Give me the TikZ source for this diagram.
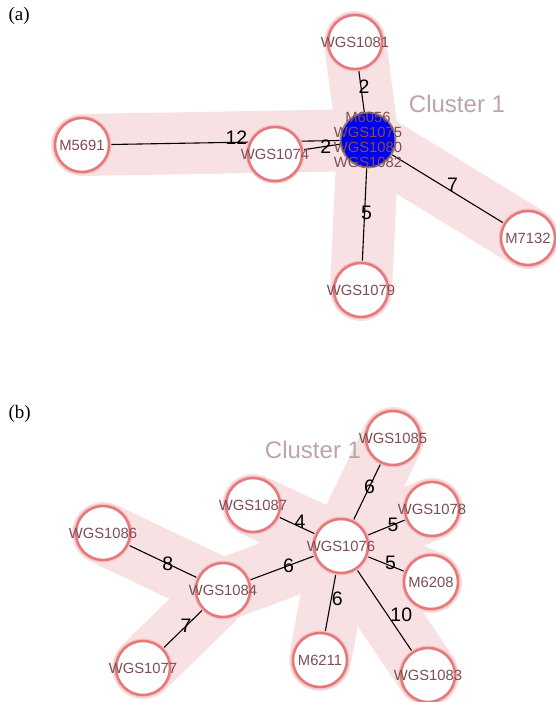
\documentclass[tikz,border=0pt]{standalone}
\usepackage{fontspec}
\setmainfont{Liberation Serif}
\newfontfamily\lsans{Liberation Sans}
\pgfdeclarelayer{hull}
\pgfdeclarelayer{edges}
\pgfsetlayers{hull,edges,main}
\definecolor{hullc}{RGB}{248,225,226}
\definecolor{ringc}{RGB}{228,120,122}
\definecolor{haloc}{RGB}{245,195,196}
\definecolor{txtc}{RGB}{125,78,85}
\definecolor{clc}{RGB}{188,165,166}
\definecolor{bluec}{RGB}{0,0,238}
\definecolor{blueb}{RGB}{150,125,125}
\tikzset{
  nd/.style={circle, minimum size=54pt, inner sep=0pt, fill=white, draw=ringc, line width=2.5pt,
    preaction={draw=haloc, line width=5pt}},
  bnd/.style={circle, minimum size=55pt, inner sep=0pt, fill=bluec, draw=blueb, line width=1.8pt},
  lbl/.style={inner sep=0pt, text=txtc, font=\lsans\fontsize{14.8}{14.8}\selectfont},
  edge/.style={draw=black, line width=1.1pt},
  elbl/.style={inner sep=1pt, text=black, font=\lsans\fontsize{19.5}{20}\selectfont},
  hullline/.style={draw=hullc, line width=62pt, line cap=round, line join=round},
  cl/.style={text=clc, font=\lsans\fontsize{24}{24}\selectfont},
  panel/.style={anchor=west, font=\fontsize{19}{19}\selectfont}
}
\begin{document}
\begin{tikzpicture}[x=1pt,y=-1pt]
\useasboundingbox (0,0) rectangle (555,702);
% panel labels
\node[panel] (pa) at (5,16) {(a)};
\node[panel] (pb) at (5,414) {(b)};
% ---------- panel (a) ----------
\node[bnd, label={[lbl,align=center]center:{M6056\\WGS1075\\WGS1080\\WGS1082}}] (c) at (368,140) {};
\node[nd, label={[lbl]center:WGS1081}] (w1081) at (355,42) {};
\node[nd, label={[lbl]center:WGS1074}] (w1074) at (275,154) {};
\node[nd, label={[lbl]center:M5691}] (m5691) at (82,145) {};
\node[nd, label={[lbl]center:M7132}] (m7132) at (528,238) {};
\node[nd, label={[lbl]center:WGS1079}] (w1079) at (361,290) {};
\node[cl] (cla) at (457,104) {Cluster 1};
\begin{pgfonlayer}{hull}
\path[hullline] (c.center) -- (w1081.center) (c.center) -- (m5691.center)
  (c.center) -- (m7132.center) (c.center) -- (w1079.center);
\end{pgfonlayer}
\begin{pgfonlayer}{edges}
\draw[edge] (w1081) -- node[elbl,pos=0.41,xshift=3pt]{2} (c);
\draw[edge] (m5691) -- node[elbl,pos=0.55,yshift=5pt]{12} (c);
\draw[edge] (w1074) -- node[elbl,pos=0.62]{2} (c);
\draw[edge] (c) -- node[elbl,pos=0.475,xshift=2pt]{5} (w1079);
\draw[edge] (c) -- node[elbl,pos=0.54,yshift=7pt]{7} (m7132);
\end{pgfonlayer}
% ---------- panel (b) ----------
\node[nd, label={[lbl]center:WGS1076}] (w1076) at (341,546) {};
\node[nd, label={[lbl]center:WGS1085}] (w1085) at (393,438) {};
\node[nd, label={[lbl]center:WGS1078}] (w1078) at (432,509) {};
\node[nd, label={[lbl]center:M6208}] (m6208) at (431,582) {};
\node[nd, label={[lbl]center:WGS1083}] (w1083) at (428,675) {};
\node[nd, label={[lbl]center:M6211}] (m6211) at (320,660) {};
\node[nd, label={[lbl]center:WGS1087}] (w1087) at (253,505) {};
\node[nd, label={[lbl]center:WGS1084}] (w1084) at (223,590) {};
\node[nd, label={[lbl]center:WGS1086}] (w1086) at (103,533) {};
\node[nd, label={[lbl]center:WGS1077}] (w1077) at (143,668) {};
\node[cl] (clb) at (313,450) {Cluster 1};
\begin{pgfonlayer}{hull}
\path[hullline] (w1076.center) -- (w1085.center) (w1076.center) -- (w1078.center)
  (w1076.center) -- (m6208.center) (w1076.center) -- (w1083.center)
  (w1076.center) -- (m6211.center) (w1076.center) -- (w1087.center)
  (w1076.center) -- (w1084.center) (w1084.center) -- (w1086.center)
  (w1084.center) -- (w1077.center);
\end{pgfonlayer}
\begin{pgfonlayer}{edges}
\draw[edge] (w1076) -- node[elbl,pos=0.59]{6} (w1085);
\draw[edge] (w1076) -- node[elbl,pos=0.67]{5} (w1078);
\draw[edge] (w1076) -- node[elbl,pos=0.62,yshift=3pt]{5} (m6208);
\draw[edge] (w1076) -- node[elbl,pos=0.55,xshift=14pt]{10} (w1083);
\draw[edge] (w1076) -- node[elbl,pos=0.43,xshift=6pt]{6} (m6211);
\draw[edge] (w1076) -- node[elbl,pos=0.42,yshift=5pt]{4} (w1087);
\draw[edge] (w1076) -- node[elbl,pos=0.40]{6} (w1084);
\draw[edge] (w1084) -- node[elbl,pos=0.43]{8} (w1086);
\draw[edge] (w1084) -- node[elbl,pos=0.42]{7} (w1077);
\end{pgfonlayer}
\end{tikzpicture}
\end{document}
